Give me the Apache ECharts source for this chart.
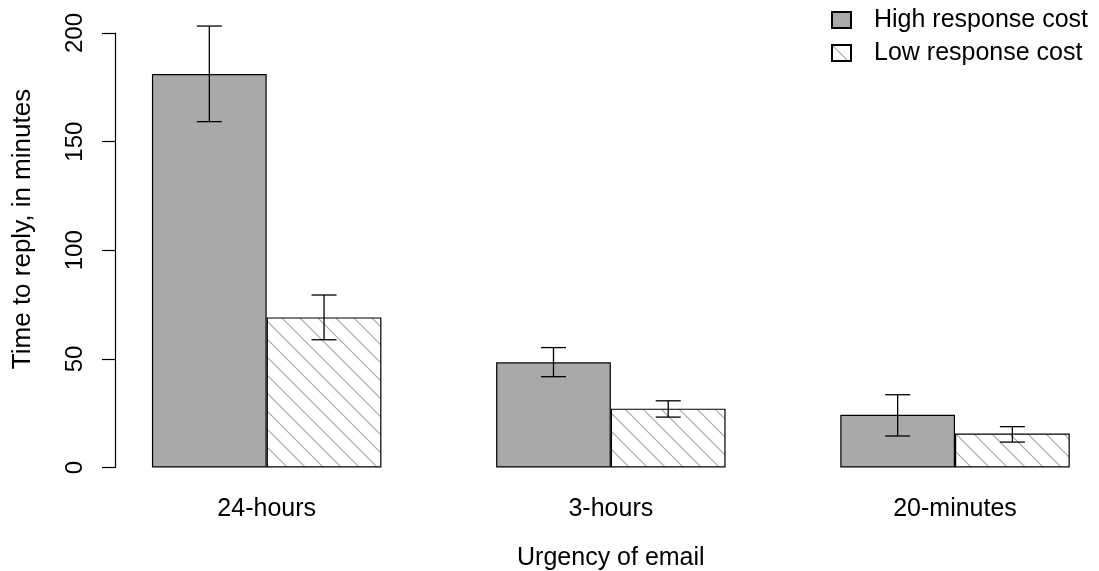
<!DOCTYPE html>
<html>
<head>
<meta charset="utf-8">
<script src="https://cdn.jsdelivr.net/npm/echarts@6/dist/echarts.min.js"></script>
<style>
  html, body { margin: 0; padding: 0; background: #fff; }
  #chart { width: 1099px; height: 571px; }
</style>
</head>
<body>
<div id="chart"></div>
<script>
// ---- data ----
const categories = ['24-hours', '3-hours', '20-minutes'];
const seriesNames = ['High response cost', 'Low response cost'];
const highValues = [181.1, 48.4, 24.3];
const highLower = [159.2, 41.8, 14.5];
const highUpper = [203.2, 55.2, 33.5];
const lowValues = [69.1, 27.1, 15.6];
const lowLower = [58.8, 23.2, 11.7];
const lowUpper = [79.4, 30.7, 18.8];
const yTicks = [0, 50, 100, 150, 200];
const xTitle = 'Urgency of email';
const yTitle = 'Time to reply, in minutes';

// ---- hatch pattern ----
function makeHatch() {
  const s = 18;
  const c = document.createElement('canvas');
  c.width = s; c.height = s;
  const ctx = c.getContext('2d');
  ctx.fillStyle = '#ffffff';
  ctx.fillRect(0, 0, s, s);
  ctx.strokeStyle = '#a8a8a8';
  ctx.lineWidth = 1.2;
  ctx.beginPath();
  ctx.moveTo(-2, -2); ctx.lineTo(s + 2, s + 2);
  ctx.moveTo(s - 2, -2); ctx.lineTo(s + 2, 2);
  ctx.moveTo(-2, s - 2); ctx.lineTo(2, s + 2);
  ctx.stroke();
  return c;
}

const FONT = '"Liberation Sans", Arial, Helvetica, sans-serif';
const chart = echarts.init(document.getElementById('chart'), null, { renderer: 'canvas' });

function errorSeries(name, lower, upper, side) {
  return {
    type: 'custom',
    name: name + ' error',
    silent: true,
    clip: false,
    z: 10,
    data: categories.map((c, i) => [i, lower[i], upper[i]]),
    renderItem: function (params, api) {
      const band = api.size([1, 0])[0];
      const off = side * band / 6;
      const lo = api.coord([api.value(0), api.value(1)]);
      const hi = api.coord([api.value(0), api.value(2)]);
      const x = lo[0] + off;
      const hw = 12.5;
      const st = { stroke: '#000', lineWidth: 1.3 };
      return {
        type: 'group',
        children: [
          { type: 'line', shape: { x1: x, y1: lo[1], x2: x, y2: hi[1] }, style: st },
          { type: 'line', shape: { x1: x - hw, y1: lo[1], x2: x + hw, y2: lo[1] }, style: st },
          { type: 'line', shape: { x1: x - hw, y1: hi[1], x2: x + hw, y2: hi[1] }, style: st }
        ]
      };
    }
  };
}

const option = {
  backgroundColor: '#ffffff',
  animation: false,
  textStyle: { fontFamily: FONT, color: '#000' },
  grid: { left: 94.6, top: 33, width: 1032.5, bottom: 103.5, containLabel: false, outerBoundsMode: 'none' },
  legend: {
    data: seriesNames,
    orient: 'vertical',
    left: 826,
    top: 2.5,
    itemWidth: 19,
    itemHeight: 16,
    itemGap: 8,
    icon: 'rect',
    textStyle: { fontFamily: FONT, fontSize: 25, color: '#000', padding: [0, 0, 0, 18] }
  },
  xAxis: {
    type: 'category',
    data: categories,
    axisLine: { show: false },
    axisTick: { show: false },
    axisLabel: { fontFamily: FONT, fontSize: 25, color: '#000', margin: 29 },
    name: xTitle,
    nameLocation: 'middle',
    nameGap: 78,
    nameTextStyle: { fontFamily: FONT, fontSize: 25, color: '#000', verticalAlign: 'top' }
  },
  yAxis: {
    type: 'value',
    min: 0,
    max: 200,
    interval: 50,
    offset: -20.4,
    splitLine: { show: false },
    axisLine: { show: true, lineStyle: { color: '#000', width: 1.2 } },
    axisTick: { show: true, length: 13, lineStyle: { color: '#000', width: 1.2 } },
    axisLabel: {
      fontFamily: FONT, fontSize: 24, color: '#000', rotate: 90, margin: 28,
      formatter: function (v) { return yTicks.indexOf(v) >= 0 ? String(v) : ''; }
    }
  },
  graphic: [{
    type: 'text',
    x: 23,
    y: 229,
    rotation: Math.PI / 2,
    style: {
      text: yTitle,
      font: '26px ' + FONT,
      fill: '#000',
      align: 'center',
      verticalAlign: 'middle'
    }
  }],
  series: [
    {
      type: 'bar',
      name: seriesNames[0],
      data: highValues,
      barGap: '0%',
      barCategoryGap: '33.33%',
      itemStyle: { color: '#a9a9a9', borderColor: '#000', borderWidth: 1.2 }
    },
    {
      type: 'bar',
      name: seriesNames[1],
      data: lowValues,
      barGap: '0%',
      barCategoryGap: '33.33%',
      itemStyle: { color: { image: makeHatch(), repeat: 'repeat' }, borderColor: '#000', borderWidth: 1.2 }
    },
    errorSeries(seriesNames[0], highLower, highUpper, -1),
    errorSeries(seriesNames[1], lowLower, lowUpper, 1)
  ]
};
chart.setOption(option);
</script>
</body>
</html>
